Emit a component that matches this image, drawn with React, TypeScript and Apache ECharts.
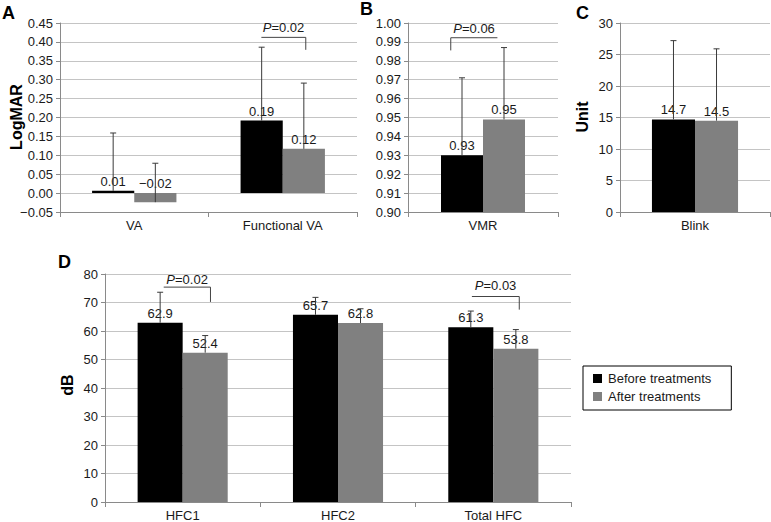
import React, { useEffect, useRef } from "react";
import * as echarts from "echarts";

// ---------- data ----------
const seriesNames = ["Before treatments", "After treatments"];

const catA = ["VA", "Functional VA"];
const beforeA = [0.006, 0.192];
const afterA = [-0.024, 0.117];
const errBeforeA = [0.159, 0.386];
const errAfterA = [0.079, 0.291];

const catB = ["VMR"];
const beforeB = [0.93];
const afterB = [0.949];
const errBeforeB = [0.971];
const errAfterB = [0.987];

const catC = ["Blink"];
const beforeC = [14.7];
const afterC = [14.5];
const errBeforeC = [27.2];
const errAfterC = [25.9];

const catD = ["HFC1", "HFC2", "Total HFC"];
const beforeD = [62.9, 65.7, 61.3];
const afterD = [52.4, 62.8, 53.8];
const errBeforeD = [73.6, 71.8, 67.0];
const errAfterD = [58.4, 67.8, 60.5];

// p-value brackets: [categoryIndex, lineValue, endValue], with their texts
const bracketA = [[1, 0.412, 0.379]];
const bracketAText = ["0.02"];
const bracketB = [[0, 0.9922, 0.9855]];
const bracketBText = ["0.06"];
const bracketD = [
  [0, 75.4, 70.2],
  [2, 72.1, 67.5],
];
const bracketDText = ["0.02", "0.03"];

const FONT = "Liberation Sans, Arial, Helvetica, sans-serif";
const AXIS = "#8a8a8a";
const GRIDC = "#c4c4c4";
const TXT = "#1a1a1a";

type Panel = {
  cats: string[];
  before: number[];
  after: number[];
  errB: number[];
  errA: number[];
  min: number;
  max: number;
  interval: number;
  dec: number;
  barFrac: number;
  grid: any;
  brackets?: number[][];
  bracketText?: string[];
  bracketSpan?: number[][]; // [leftFrac, rightFrac, side(1 right, -1 left), textGap]
};

const fmt = (v: number, d: number) => {
  const s = v.toFixed(d);
  return s.startsWith("-") ? "\u2212" + s.slice(1) : s;
};

export default function App() {
  const ref = useRef<HTMLDivElement>(null);
  useEffect(() => {
    if (!ref.current) return;
    const chart = echarts.init(ref.current, undefined, { renderer: "svg" });

    const panels: Panel[] = [
      {
        cats: catA, before: beforeA, after: afterA, errB: errBeforeA, errA: errAfterA,
        min: -0.05, max: 0.45, interval: 0.05, dec: 2, barFrac: 0.284,
        grid: { left: 60, top: 23, width: 297, height: 189 },
        brackets: bracketA, bracketText: bracketAText,
        bracketSpan: [[-0.144, 0.155, 1, 3]],
      },
      {
        cats: catB, before: beforeB, after: afterB, errB: errBeforeB, errA: errAfterB,
        min: 0.9, max: 1.0, interval: 0.01, dec: 2, barFrac: 0.28,
        grid: { left: 408, top: 23, width: 150, height: 189 },
        brackets: bracketB, bracketText: bracketBText,
        bracketSpan: [[-0.215, 0.096, -1, 3]],
      },
      {
        cats: catC, before: beforeC, after: afterC, errB: errBeforeC, errA: errAfterC,
        min: 0, max: 30, interval: 5, dec: 0, barFrac: 0.287,
        grid: { left: 620, top: 23, width: 150, height: 189 },
      },
      {
        cats: catD, before: beforeD, after: afterD, errB: errBeforeD, errA: errAfterD,
        min: 0, max: 80, interval: 10, dec: 0, barFrac: 0.29,
        grid: { left: 105, top: 274, width: 466, height: 230 },
        brackets: bracketD, bracketText: bracketDText,
        bracketSpan: [[-0.122, 0.179, 1, 1], [-0.138, 0.167, 1, 5]],
      },
    ];
    const labelDec = [2, 2, 1, 1];

    const grids: any[] = [];
    const xAxes: any[] = [];
    const yAxes: any[] = [];
    const series: any[] = [];

    panels.forEach((p, g) => {
      grids.push({ ...p.grid, containLabel: false });
      xAxes.push({
        type: "category",
        gridIndex: g,
        data: p.cats,
        axisLine: { show: true, onZero: false, lineStyle: { color: AXIS, width: 1 } },
        axisTick: { show: true, length: 5, alignWithLabel: false, lineStyle: { color: AXIS } },
        axisLabel: { color: TXT, fontSize: 13, fontFamily: FONT, margin: 7 },
        splitLine: { show: false },
      });
      yAxes.push({
        type: "value",
        gridIndex: g,
        min: p.min,
        max: p.max,
        interval: p.interval,
        axisLine: { show: true, lineStyle: { color: AXIS, width: 1 } },
        axisTick: { show: true, length: 4, lineStyle: { color: AXIS } },
        axisLabel: {
          color: TXT, fontSize: 13, fontFamily: FONT, margin: 7,
          formatter: (v: number) => fmt(v, p.dec),
        },
        splitLine: { show: true, lineStyle: { color: GRIDC, width: 1 } },
      });
      const bw = (p.barFrac * 100).toFixed(1) + "%";
      const mkBar = (name: string, data: number[], color: string) => ({
        type: "bar",
        name,
        xAxisIndex: g,
        yAxisIndex: g,
        data,
        barWidth: bw,
        barGap: "0%",
        itemStyle: { color },
        label: {
          show: true,
          position: "top",
          distance: 3,
          color: TXT,
          fontSize: 13,
          fontFamily: FONT,
          formatter: (prm: any) => fmt(prm.value, labelDec[g]),
        },
        z: 2,
      });
      series.push(mkBar(seriesNames[0], p.before, "#000000"));
      series.push(mkBar(seriesNames[1], p.after, "#808080"));

      const mkErr = (vals: number[], tops: number[], off: number, color: string) => ({
        type: "custom",
        xAxisIndex: g,
        yAxisIndex: g,
        silent: true,
        z: 5,
        data: vals.map((v, i) => [i, v, tops[i]]),
        renderItem: (params: any, api: any) => {
          const band = api.size([1, 0])[0];
          const base = api.coord([api.value(0), api.value(1)]);
          const top = api.coord([api.value(0), api.value(2)]);
          const x = base[0] + off * band;
          return {
            type: "group",
            children: [
              { type: "line", shape: { x1: x, y1: base[1], x2: x, y2: top[1] }, style: { stroke: color, lineWidth: 1 } },
              { type: "line", shape: { x1: x - 3, y1: top[1], x2: x + 3, y2: top[1] }, style: { stroke: color, lineWidth: 1 } },
            ],
          };
        },
      });
      series.push(mkErr(p.before, p.errB, -p.barFrac / 2, "#3a3a3a"));
      series.push(mkErr(p.after, p.errA, p.barFrac / 2, "#3a3a3a"));

      if (p.brackets) {
        const span = p.bracketSpan as number[][];
        const texts = p.bracketText as string[];
        series.push({
          type: "custom",
          xAxisIndex: g,
          yAxisIndex: g,
          silent: true,
          z: 6,
          data: p.brackets,
          renderItem: (params: any, api: any) => {
            const i = params.dataIndex;
            const band = api.size([1, 0])[0];
            const a = api.coord([api.value(0), api.value(1)]);
            const e = api.coord([api.value(0), api.value(2)]);
            const xl = a[0] + span[i][0] * band;
            const xr = a[0] + span[i][1] * band;
            const pts =
              span[i][2] > 0
                ? [[xl, a[1]], [xr, a[1]], [xr, e[1]]]
                : [[xl, e[1]], [xl, a[1]], [xr, a[1]]];
            return {
              type: "group",
              children: [
                { type: "polyline", shape: { points: pts }, style: { stroke: "#444", lineWidth: 1, fill: null } },
                {
                  type: "text",
                  style: {
                    text: "{i|P}=" + texts[i],
                    x: (xl + xr) / 2,
                    y: a[1] - span[i][3],
                    align: "center",
                    verticalAlign: "bottom",
                    fill: TXT,
                    fontSize: 13,
                    fontFamily: FONT,
                    rich: { i: { fontStyle: "italic", fontSize: 13, fontFamily: FONT, fill: TXT } },
                  },
                },
              ],
            };
          },
        });
      }
    });

    const txt = (text: string, x: number, y: number, size: number, rot = 0, align = "left") => ({
      type: "text",
      x,
      y,
      rotation: rot,
      style: {
        text,
        fill: "#000",
        font: `bold ${size}px ${FONT}`,
        align,
        verticalAlign: "middle",
      },
      silent: true,
    });

    chart.setOption({
      animation: false,
      backgroundColor: "#ffffff",
      grid: grids,
      xAxis: xAxes,
      yAxis: yAxes,
      series,
      legend: {
        data: seriesNames,
        orient: "vertical",
        left: 583,
        top: 366,
        icon: "rect",
        itemWidth: 9,
        itemHeight: 9,
        itemGap: 5,
        borderColor: "#000",
        borderWidth: 1,
        borderRadius: 0,
        padding: [6, 20, 7, 10],
        backgroundColor: "#fff",
        selectedMode: false,
        textStyle: { fontSize: 13, color: TXT, fontFamily: FONT, padding: [0, 0, 0, 1] },
      },
      graphic: [
        txt("A", 2, 13, 18),
        txt("B", 360, 9, 18),
        txt("C", 576, 12.5, 18),
        txt("D", 58, 262, 18),
        txt("LogMAR", 16, 117, 16, Math.PI / 2, "center"),
        txt("Unit", 582.5, 117, 16, Math.PI / 2, "center"),
        txt("dB", 67.5, 385, 16, Math.PI / 2, "center"),
      ],
    });

    return () => chart.dispose();
  }, []);

  return (
    <div
      ref={ref}
      style={{ position: "fixed", left: 0, top: 0, width: 771, height: 522, background: "#fff" }}
    />
  );
}
